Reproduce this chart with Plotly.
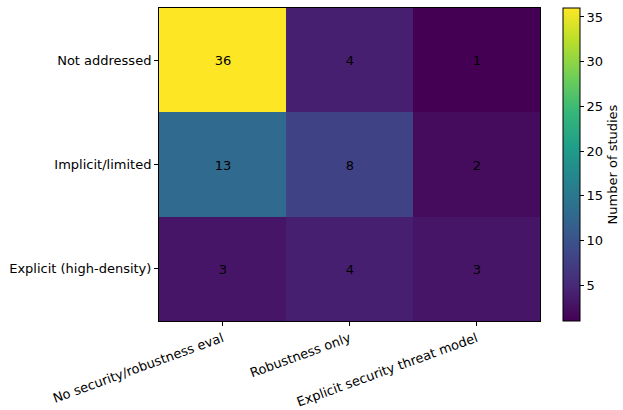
import plotly.graph_objects as go

# Evaluation approach (columns) vs. threat-model coverage (rows)
eval_types = ["No security/robustness eval", "Robustness only", "Explicit security threat model"]
coverage = ["Not addressed", "Implicit/limited", "Explicit (high-density)"]
counts = [
    [36, 4, 1],
    [13, 8, 2],
    [3, 4, 3],
]

W, H = 623, 410
left, right, top, bottom = 159, 83, 8, 89
font = dict(family="DejaVu Sans", size=13, color="black")

fig = go.Figure(
    go.Heatmap(
        z=counts,
        x=eval_types,
        y=coverage,
        colorscale="Viridis",
        zmin=1,
        zmax=36,
        texttemplate="%{z}",
        textfont=dict(family="DejaVu Sans", size=13, color="black"),
        xgap=0,
        ygap=0,
        colorbar=dict(
            title=dict(text="Number of studies", side="right", font=font),
            x=(563 - left) / (W - left - right),
            xanchor="left",
            xpad=0,
            ypad=0,
            y=0.5,
            len=1,
            lenmode="fraction",
            thickness=17,
            outlinewidth=1,
            outlinecolor="black",
            tickvals=[5, 10, 15, 20, 25, 30, 35],
            ticks="outside",
            ticklen=4,
            tickcolor="black",
            tickfont=font,
        ),
    )
)

fig.update_layout(
    width=W,
    height=H,
    margin=dict(l=left, r=right, t=top, b=bottom, autoexpand=False),
    paper_bgcolor="white",
    plot_bgcolor="white",
    font=font,
)
fig.update_xaxes(
    automargin=False,
    tickangle=-20,
    ticks="outside",
    ticklen=4,
    tickcolor="black",
    showline=True,
    linecolor="black",
    linewidth=1,
    mirror=True,
    showgrid=False,
    tickfont=font,
)
fig.update_yaxes(
    automargin=False,
    autorange="reversed",
    ticks="outside",
    ticklen=4,
    tickcolor="black",
    showline=True,
    linecolor="black",
    linewidth=1,
    mirror=True,
    showgrid=False,
    tickfont=font,
)

fig.write_html("out.html")
